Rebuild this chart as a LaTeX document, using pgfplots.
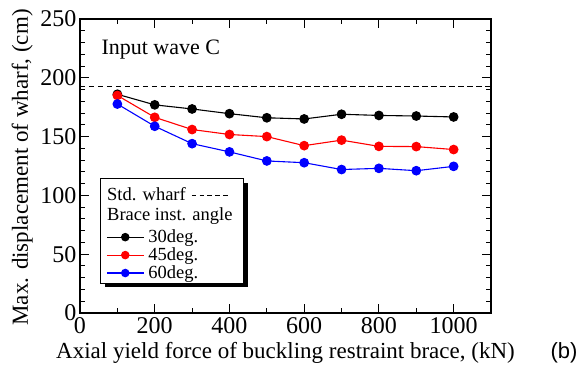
\documentclass[border=0pt]{standalone}
\usepackage{fontspec}
\setmainfont{Liberation Serif}
\newfontfamily\arialfont{Liberation Sans}
\usepackage{pgfplots}
\pgfplotsset{compat=1.18}
\usetikzlibrary{shadows}
\newcommand\legdash{\rule[0.3em]{4.5bp}{0.8bp}}
\newcommand\dashes{\legdash\hspace{3.3bp}\legdash\hspace{3.3bp}\legdash\hspace{3.3bp}\legdash\hspace{3.3bp}\legdash}
\begin{document}
\begin{tikzpicture}
\useasboundingbox (-80bp,-61bp) rectangle (502bp,313bp);
\begin{axis}[
  at={(0,0)}, anchor=south west,
  scale only axis, width=411bp, height=294bp,
  xmin=0, xmax=1100, ymin=0, ymax=250,
  xtick={0,200,...,1000}, ytick={0,50,...,250},
  minor x tick num=1, minor y tick num=4,
  tick align=inside, xtick pos=both, ytick pos=both,
  xticklabel pos=lower, yticklabel pos=left,
  major tick length=9bp, minor tick length=5bp,
  axis line style={line width=1.2bp},
  every tick/.style={black, line width=1bp},
  tick label style={font=\fontsize{24bp}{24bp}\selectfont},
  /pgf/number format/assume math mode=true,
  /pgf/number format/1000 sep={},
  xticklabel style={inner ysep=4bp},
  yticklabel style={inner xsep=3.5bp},
  xlabel={Axial yield force of buckling restraint brace, (kN)},
  xlabel style={at={([yshift=-45bp]rel axis cs:0.5,0)}, anchor=base, font=\fontsize{23bp}{27bp}\selectfont},
  ylabel={Max. displacement of wharf, (cm)},
  ylabel style={at={([xshift=-52bp,yshift=-1.4bp]rel axis cs:0,0.5)}, anchor=base, font=\fontsize{23bp}{27bp}\selectfont},
  legend style={
    at={(rel axis cs:0.0633,0.283)}, anchor=north west,
    draw=none, fill=none,
    font=\fontsize{18.5bp}{21bp}\selectfont,
    inner sep=0bp, row sep=3.6bp,
    nodes={inner xsep=4bp, inner ysep=0bp},
  },
  legend cell align=left,
  legend image code/.code={\draw[mark repeat=2,mark phase=2,#1] plot coordinates {(0bp,0bp) (18.5bp,0bp) (37bp,0bp)};},
  legend image post style={mark size=3.7bp},
  clip=false,
]
\addplot[black, line width=1bp, dash pattern=on 5.5bp off 3.5bp, forget plot] coordinates {(0,193) (1100,193)};

\addplot[black, line width=1.1bp, mark=*, mark size=4.3bp, mark options={solid, fill=black}] coordinates {
(100,186) (200,177) (300,173.5) (400,169.5) (500,166) (600,165) (700,169) (800,168) (900,167.5) (1000,166.7)};
\addlegendentry{30deg.}
\addplot[red, line width=1.1bp, mark=*, mark size=4.3bp, mark options={solid, fill=red}] coordinates {
(100,185) (200,166.4) (300,156) (400,151.8) (500,150) (600,142.3) (700,147) (800,141.7) (900,141.5) (1000,139)};
\addlegendentry{45deg.}
\addplot[blue, line width=1.1bp, mark=*, mark size=4.3bp, mark options={solid, fill=blue}] coordinates {
(100,177.7) (200,158.8) (300,144) (400,137) (500,129.3) (600,127.8) (700,122) (800,123) (900,121) (1000,124.7)};
\addlegendentry{60deg.}

\node[anchor=north west, draw=black, line width=1bp, fill=white, minimum width=143bp, minimum height=104.4bp, inner sep=0bp,
  drop shadow={shadow xshift=4bp, shadow yshift=-4bp, fill=black, opacity=1}] at (rel axis cs:0.0487,0.458) {};
\node[anchor=base west, inner sep=0bp, font=\fontsize{18.5bp}{21bp}\selectfont] at (rel axis cs:0.0657,0.381) {Std. wharf\hspace{6bp}\dashes};
\node[anchor=base west, inner sep=0bp, font=\fontsize{18.5bp}{21bp}\selectfont] at (rel axis cs:0.0657,0.3163) {Brace inst. angle};

\node[anchor=base west, font=\fontsize{22bp}{26bp}\selectfont] at (rel axis cs:0.0438,0.8776) {Input wave C};
\node[anchor=base west, font=\arialfont\fontsize{22bp}{26bp}\selectfont] at ([xshift=56bp,yshift=-45bp]rel axis cs:1,0) {(b)};
\end{axis}
\end{tikzpicture}
\end{document}
